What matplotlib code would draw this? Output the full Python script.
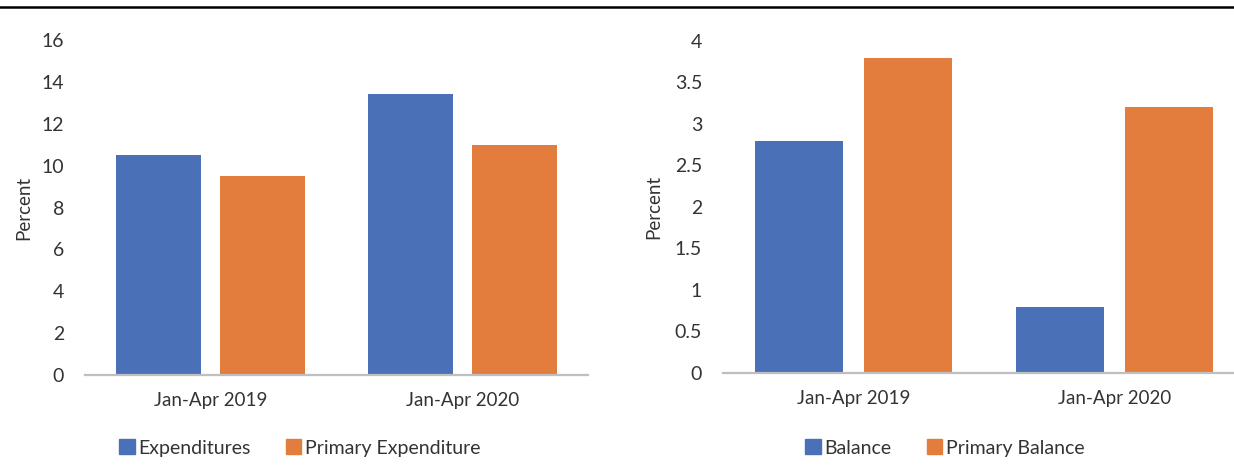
import matplotlib.pyplot as plt
from matplotlib.patches import Patch
import numpy as np

plt.rcParams['font.family'] = ['Lato', 'DejaVu Sans']

periods = ['Jan-Apr 2019', 'Jan-Apr 2020']
expenditures = [10.5, 13.4]
primary_expenditure = [9.5, 11.0]
balance = [2.8, 0.8]
primary_balance = [3.8, 3.2]

BLUE = '#4a70b8'
ORANGE = '#e27d3e'


def bar_panel(ax, s1, s2, ylim, yticks, ticklabels, off, width, label_x):
    x = np.arange(len(periods))
    ax.bar(x - off, s1, width, color=BLUE)
    ax.bar(x + off, s2, width, color=ORANGE)
    ax.set_xlim(-0.5, 1.5)
    ax.set_ylim(*ylim)
    ax.set_yticks(yticks)
    ax.set_yticklabels(ticklabels, fontsize=14, color='#333333')
    ax.set_xticks(x)
    ax.set_xticklabels(periods, fontsize=13.5, color='#333333')
    ax.set_ylabel('Percent', fontsize=13.5, color='#333333')
    ax.yaxis.set_label_coords(label_x, 0.5)
    for s in ['top', 'right', 'left']:
        ax.spines[s].set_visible(False)
    ax.spines['bottom'].set_color('#bfbfbf')
    ax.spines['bottom'].set_linewidth(1.6)
    ax.tick_params(axis='both', length=0)
    ax.tick_params(axis='y', pad=15)
    ax.tick_params(axis='x', pad=12)


fig = plt.figure(figsize=(12.34, 4.70), dpi=100)

ax1 = fig.add_axes([0.0689, 0.2021, 0.4076, 0.7128])
bar_panel(ax1, expenditures, primary_expenditure, (0, 16),
          range(0, 17, 2), [str(v) for v in range(0, 17, 2)], 0.206, 0.338, -0.105)

# right panel runs past the figure edge, as in the source image
ax2 = fig.add_axes([0.5859, 0.2064, 0.423, 0.7064])
rticks = np.arange(0, 4.01, 0.5)
bar_panel(ax2, balance, primary_balance, (0, 4),
          rticks, ['0', '0.5', '1', '1.5', '2', '2.5', '3', '3.5', '4'], 0.209, 0.337, -0.117)

fig.legend(handles=[Patch(color=BLUE, label='Expenditures'),
                    Patch(color=ORANGE, label='Primary Expenditure')],
           loc='center', bbox_to_anchor=(300 / 1234, 1 - 448 / 470), ncol=2,
           frameon=False, fontsize=14, handlelength=0.8, handleheight=0.8,
           handletextpad=0.2, columnspacing=1.8, labelcolor='#333333')
fig.legend(handles=[Patch(color=BLUE, label='Balance'),
                    Patch(color=ORANGE, label='Primary Balance')],
           loc='center', bbox_to_anchor=(945 / 1234, 1 - 448 / 470), ncol=2,
           frameon=False, fontsize=14, handlelength=0.8, handleheight=0.8,
           handletextpad=0.2, columnspacing=1.8, labelcolor='#333333')

# black rule along the top edge
fig.add_artist(plt.Line2D([0, 1], [1 - 7 / 470, 1 - 7 / 470], color='black',
                          linewidth=1.8, transform=fig.transFigure))

fig.savefig('out.png', dpi=100)
